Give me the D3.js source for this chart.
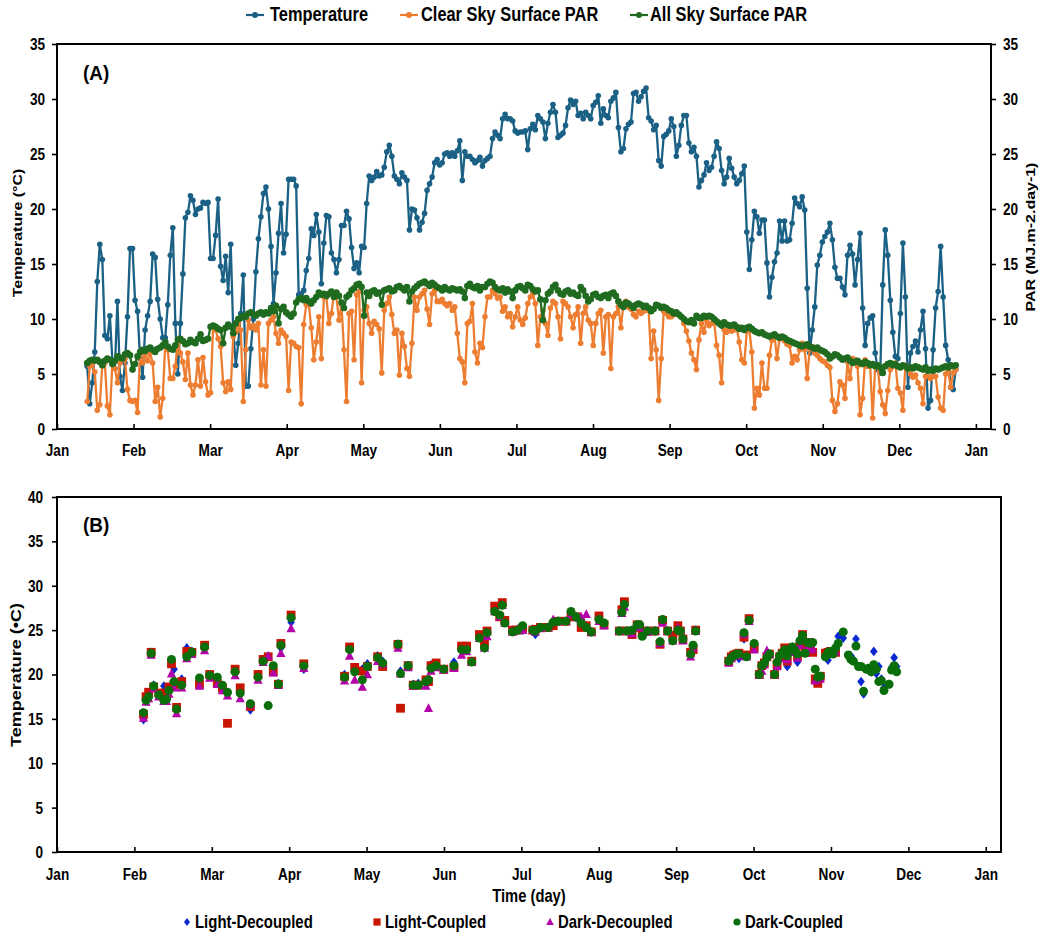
<!DOCTYPE html>
<html><head><meta charset="utf-8">
<script src="https://cdn.jsdelivr.net/npm/d3@7"></script>
<style>
body{margin:0;background:#fff;}
svg{display:block;}
text{font-family:"Liberation Sans",Arial,sans-serif;font-weight:bold;fill:#000;}
</style></head><body>
<svg id="chart" width="1040" height="934"></svg>
<script>
// ---------------- DATA ----------------
const monthLabels = ["Jan","Feb","Mar","Apr","May","Jun","Jul","Aug","Sep","Oct","Nov","Dec","Jan"];
const yTicksA = [0,5,10,15,20,25,30,35];
const yTicksB = [0,5,10,15,20,25,30,35,40];
const seriesNamesA = ["Temperature","Clear Sky Surface PAR","All Sky Surface PAR"];
const seriesNamesB = ["Light-Decoupled","Light-Coupled","Dark-Decoupled","Dark-Coupled"];
const firstDayA = 12; // daily values from Jan 12

const temperature = [
5.7,2.3,4.2,7.0,13.4,16.8,15.4,8.5,8.2,10.3,
6.2,5.5,11.6,4.8,3.5,6.0,10.2,16.4,16.4,11.7,
10.7,6.4,4.7,9.0,10.3,11.6,15.9,15.6,11.8,10.0,
8.3,8.3,11.3,15.8,18.3,9.6,5.0,9.6,14.1,19.2,
19.7,21.2,20.8,19.5,20.0,20.1,20.6,20.5,20.6,
15.5,15.5,17.6,20.9,14.8,13.5,15.7,12.4,16.8,9.0,
5.8,7.8,10.5,14.0,3.9,3.9,7.3,10.0,14.3,17.3,
19.3,21.4,22.0,20.0,16.6,11.4,14.2,17.8,20.5,16.0,
17.7,22.7,22.7,22.7,22.1,12.2,12.3,12.6,14.4,15.5,
18.2,17.6,19.5,17.9,13.2,16.9,19.4,19.3,16.0,15.4,
14.2,15.4,18.5,18.5,19.8,19.1,16.5,14.6,15.1,14.2,
16.6,16.5,20.5,23.0,22.6,22.9,23.4,23.0,23.1,23.8,
25.2,25.8,24.8,23.0,22.7,22.3,23.3,22.9,22.6,18.1,
20.0,19.9,19.2,18.1,18.8,19.6,21.7,22.3,22.9,24.2,
24.5,24.0,24.2,25.0,25.1,24.8,25.1,24.8,25.3,26.2,
22.6,25.2,24.8,24.8,24.5,24.2,24.4,24.7,23.9,24.4,
24.6,24.8,26.4,27.0,26.7,26.4,28.2,28.6,28.2,28.2,
28.0,27.1,26.9,27.0,27.0,27.1,25.4,27.3,27.7,27.2,
28.5,28.2,27.9,26.4,27.8,28.8,29.5,28.8,26.5,26.7,
26.9,27.6,29.2,29.9,29.5,29.8,28.5,28.7,28.2,28.8,
28.5,28.2,29.4,29.7,30.3,27.8,29.1,28.5,28.3,29.8,
30.1,30.6,27.4,25.2,25.5,27.3,27.7,27.9,30.5,30.6,
29.8,30.2,30.7,31.0,28.3,28.0,27.2,27.6,24.4,23.9,
26.6,26.8,27.1,28.2,27.5,24.8,25.8,27.6,28.5,28.5,
26.0,25.2,25.6,24.8,22.0,
22.6,23.1,24.2,23.5,23.8,24.8,26.1,25.5,23.5,22.3,
22.9,24.6,23.7,22.9,22.3,22.6,23.2,23.9,17.9,14.5,
17.2,19.8,19.3,17.8,19.0,19.0,15.1,12.0,13.8,15.2,
16.0,18.9,17.1,18.9,17.1,17.2,18.7,21.0,20.5,20.2,
21.1,19.9,12.8,6.9,9.0,11.1,14.9,15.8,17.0,17.5,
17.9,18.7,17.2,14.7,13.7,13.7,12.9,12.2,15.8,16.7,
15.9,13.1,15.4,17.8,11.0,7.6,9.6,10.1,10.3,6.9,
5.4,5.1,13.1,18.1,15.8,11.7,8.8,6.6,6.4,10.5,
16.9,12.0,3.8,6.9,7.5,8.0,7.0,9.0,10.7,7.3,
1.9,2.6,7.2,11.0,12.5,16.6,12.0,7.6,6.3,3.8,
3.6,5.4];

const clearSkyPAR = [
2.5,5.7,5.9,5.2,1.7,2.2,5.8,6.0,2.1,1.3,
6.0,5.5,4.2,6.0,6.3,6.4,3.6,2.6,2.5,2.6,
1.5,6.9,6.0,6.8,6.2,6.9,6.0,2.5,3.8,1.1,
2.8,7.8,7.2,4.6,4.6,5.7,7.8,6.9,6.1,4.5,
6.9,4.0,3.1,4.0,6.3,3.9,6.5,4.3,3.1,3.3,
9.3,9.0,8.2,7.5,4.2,3.4,4.3,3.6,8.4,8.8,
9.6,9.0,2.5,7.2,9.9,9.2,9.4,9.0,9.6,4.0,
7.2,3.9,9.6,9.9,10.2,8.7,7.8,9.0,8.7,8.4,
3.5,7.9,7.8,7.5,7.4,2.3,9.5,11.3,11.4,9.2,
6.3,7.9,10.2,6.4,12.0,12.0,9.6,10.5,12.3,12.0,
9.9,11.3,7.2,2.5,10.5,10.7,6.3,12.2,12.5,
4.2,10.8,11.1,9.6,8.7,9.8,9.5,9.1,5.1,10.8,
11.4,12.0,10.4,8.7,9.0,4.9,8.7,7.5,5.5,4.8,
7.8,12.0,10.8,12.0,12.3,12.6,10.9,9.5,12.3,12.6,
11.6,11.6,11.8,11.4,11.2,11.4,10.8,11.1,8.7,6.4,
6.1,4.2,9.6,9.8,11.4,7.0,6.0,7.8,7.4,10.2,
12.0,12.0,12.6,12.3,11.9,12.0,10.7,11.1,10.2,10.5,
9.3,10.2,11.1,9.9,9.5,10.1,11.4,12.0,12.3,11.4,
7.6,10.2,10.8,9.6,8.5,11.0,11.6,11.4,10.2,8.2,
11.6,11.4,11.1,10.2,9.2,10.4,11.1,7.8,10.5,11.1,
9.9,9.6,7.6,9.6,10.5,10.8,6.9,10.2,10.4,5.5,
10.2,10.5,11.1,9.2,11.4,11.6,11.1,10.9,10.4,10.2,
10.7,10.5,10.7,10.8,10.8,6.4,8.9,7.2,2.6,6.4,
10.7,10.5,10.2,10.2,10.4,10.5,10.4,10.2,9.6,8.9,
8.0,6.9,6.3,5.4,8.1,
9.6,8.8,9.9,9.4,9.6,9.9,7.6,6.7,4.2,9.0,
8.8,9.2,8.9,9.0,9.2,7.9,6.3,6.0,8.9,9.0,
7.0,1.9,3.7,3.1,6.0,3.7,3.7,6.7,8.1,8.5,
6.4,8.2,8.2,8.0,7.7,7.6,6.0,6.6,6.3,7.2,
7.8,7.2,4.6,7.3,7.5,6.9,6.7,6.4,6.2,6.1,
5.8,5.6,2.6,1.6,2.3,4.3,4.0,2.8,6.1,4.6,
6.4,6.3,5.7,1.3,2.8,6.3,5.7,5.8,1.0,5.8,
5.7,3.4,2.2,1.4,3.5,5.4,5.7,6.0,3.7,3.3,
1.7,5.8,5.5,5.0,4.7,4.9,4.2,3.7,2.3,4.8,
4.8,4.6,4.8,4.8,2.9,1.9,1.7,5.0,5.3,3.8,
5.1,5.4];

const allSkyPAR = [
6.0,6.2,6.3,6.2,6.3,6.1,5.8,6.2,6.4,6.3,
5.9,6.2,6.6,6.5,6.4,6.8,6.9,6.7,5.4,5.9,
6.6,7.0,7.2,7.1,7.3,7.4,7.2,7.0,7.3,7.4,
7.6,7.9,7.5,7.3,7.2,7.6,8.1,8.2,8.0,7.7,
7.8,8.1,7.9,7.8,8.2,8.6,8.0,8.1,8.2,9.3,
9.4,9.3,9.1,9.0,7.8,9.2,9.5,9.3,8.7,9.6,
10.0,10.1,10.3,10.2,10.5,10.6,10.4,10.3,10.5,10.6,
10.4,10.6,10.5,11.0,10.7,11.2,9.6,10.9,11.1,10.6,
10.4,10.2,10.5,11.5,11.8,11.9,11.7,11.9,11.6,11.4,
11.7,12.0,12.4,12.2,12.3,12.1,12.3,12.5,12.0,12.4,
12.1,11.5,11.0,12.0,12.2,12.6,12.8,13.1,13.2,
12.9,10.3,12.4,12.1,12.5,12.6,12.3,12.4,11.3,12.6,
12.7,12.8,12.5,12.6,12.9,13.0,12.8,12.6,12.9,11.6,
12.5,12.8,13.0,13.2,13.3,13.4,13.2,13.0,13.3,13.1,
12.9,12.8,12.6,12.9,12.7,12.6,12.8,12.7,12.6,12.7,
12.5,11.9,13.0,13.2,12.9,12.8,13.0,12.6,12.9,12.9,
13.2,13.4,13.3,12.9,12.7,12.6,12.8,12.4,12.7,12.5,
11.9,12.6,12.9,13.0,12.8,12.6,13.1,13.0,12.7,12.5,
12.6,11.8,9.9,11.7,12.3,12.5,12.9,13.1,12.6,12.3,
12.2,12.5,12.6,12.3,12.4,12.2,12.1,12.9,12.6,12.1,
11.6,11.8,12.2,12.3,12.0,11.9,12.1,12.2,11.9,12.3,
12.4,12.1,11.6,11.3,11.1,11.5,11.4,11.2,11.0,11.3,
11.4,11.3,11.1,11.2,11.0,10.7,10.9,11.3,11.2,11.0,
11.1,11.0,10.8,10.7,10.5,10.6,10.4,10.2,10.0,9.8,
9.7,9.9,9.6,10.3,10.1,
10.1,10.3,10.2,10.3,10.2,10.0,9.8,9.6,9.4,9.7,
9.5,9.4,9.4,9.5,9.3,9.1,9.2,9.0,9.2,9.3,
9.1,8.9,8.8,8.7,8.8,8.6,8.5,8.4,8.5,8.6,
8.4,8.3,8.4,8.3,8.1,8.0,7.9,7.8,7.7,7.6,
7.5,7.6,7.7,7.5,7.4,7.3,7.4,7.2,7.1,7.0,
6.8,6.4,6.6,6.8,6.7,6.5,6.3,6.4,6.5,6.2,
6.0,6.1,6.2,6.0,5.9,6.1,6.0,5.8,5.9,5.7,
5.8,5.6,5.1,5.7,5.9,6.0,5.8,5.9,5.7,5.6,
5.8,5.7,5.5,5.6,5.5,5.7,5.6,5.5,5.4,5.6,
5.3,5.4,5.3,5.5,5.4,5.5,5.6,5.7,5.6,5.8,5.7,5.8];

// Panel B: measurement days (day of year) and values per treatment
const daysB = [
34,35,36,37,38,40,42,43,44,45,46,47,49,51,53,56,58,60,63,65,
67,70,72,76,79,81,83,85,87,88,92,97,113,115,117,120,122,126,128,134,
135,138,140,142,145,146,147,149,152,156,159,161,163,166,168,169,172,174,175,176,
179,181,183,187,188,190,193,195,197,200,202,204,206,208,210,213,215,221,222,223,
224,226,228,229,230,232,235,237,238,240,242,244,245,246,249,250,251,264,265,266,
267,268,270,271,272,274,276,277,278,279,280,282,283,284,285,286,287,288,289,290,
291,292,293,294,295,296,297,298,299,300,302,303,304,305,306,307,309,311,312,313,
314,315,316,317,318,319,320,321,322,323,324,325,327,328,329,330];

const lightDecoupled = [
14.9,17.0,17.6,22.5,18.8,17.8,18.7,17.4,18.3,21.6,
20.6,16.2,19.5,23.0,22.6,18.9,23.0,19.8,19.3,18.3,
17.8,20.3,17.8,16.0,20.0,21.6,22.0,20.4,19.0,23.0,
25.9,20.6,20.0,22.9,20.5,20.6,21.2,22.1,21.5,23.4,
20.4,21.0,18.9,19.0,19.3,19.5,21.1,21.2,20.6,21.4,
23.0,22.8,21.5,24.3,23.0,24.7,27.3,26.6,27.9,25.9,
25.0,25.0,25.0,24.9,24.5,25.3,25.3,25.9,26.0,26.0,
27.0,26.4,25.8,25.5,24.8,26.2,25.6,24.9,27.0,28.0,
24.9,24.8,25.6,25.5,24.6,24.9,24.9,23.7,26.2,24.9,
23.8,25.2,24.8,24.0,22.4,23.0,25.0,21.6,22.0,22.0,
22.3,21.8,24.0,22.1,26.1,23.3,20.0,21.0,21.4,21.9,
22.2,20.0,21.4,22.0,22.5,22.6,20.9,22.9,23.1,22.4,
21.4,23.6,24.4,22.5,23.4,23.3,23.6,19.5,19.3,19.6,
22.2,21.6,22.4,22.7,23.0,24.3,24.1,22.1,22.1,21.7,
24.0,20.9,19.2,17.8,20.6,20.5,20.3,22.6,20.1,20.9,
19.5,18.5,18.9,20.8,21.9,20.9];

const lightCoupled = [
15.5,17.5,18.0,22.5,18.6,17.9,17.9,17.6,18.6,21.2,
18.8,16.3,19.2,22.6,22.5,18.9,23.3,20.0,19.0,18.5,
14.5,20.6,18.5,16.4,20.0,21.7,22.0,20.3,18.9,23.5,
26.7,21.2,19.8,23.1,20.8,20.4,20.9,22.0,20.9,23.4,
16.2,21.0,18.8,18.8,19.4,19.2,21.0,21.3,20.6,20.8,
23.2,23.2,21.5,24.5,23.6,24.9,27.7,26.5,28.1,26.1,
25.0,25.0,25.2,25.0,25.1,25.3,25.3,25.5,26.0,26.0,
26.5,26.5,25.3,25.5,24.8,26.6,25.6,24.9,27.3,28.2,
24.9,24.5,25.6,25.3,24.8,24.9,24.9,23.4,26.1,24.9,
24.4,25.5,24.9,24.0,22.5,22.8,25.0,21.5,22.0,22.2,
22.3,22.4,24.2,22.2,26.3,23.0,20.0,21.0,21.3,22.0,
22.3,20.0,21.1,22.0,22.4,23.0,21.5,22.8,23.0,22.7,
22.0,23.3,24.5,22.9,23.6,23.0,22.5,19.5,19.0,19.8,
22.4,22.5,22.6,22.5,22.5,null,null,null,null,null,
null,null,null,null,null,null,null,null,null,null,
null,null,null,null,null,null];

const darkDecoupled = [
15.1,16.9,17.3,22.2,18.4,17.5,17.0,17.0,17.8,20.1,
18.5,15.6,18.5,21.8,22.3,18.7,22.7,19.6,18.9,18.2,
17.6,19.9,17.3,16.6,19.4,21.4,22.1,20.2,18.8,22.4,
25.2,20.7,19.3,22.1,19.4,18.6,20.0,21.5,21.2,23.0,
20.1,20.8,18.7,18.8,18.7,16.2,20.4,20.8,20.5,20.7,
22.2,22.6,21.4,24.1,23.0,24.3,27.1,26.5,27.8,25.8,
24.8,25.1,25.0,25.0,24.8,25.2,25.3,26.2,26.0,26.0,
26.8,26.5,26.5,26.8,24.8,26.0,25.5,24.9,26.9,27.6,
24.9,24.6,25.4,25.3,24.5,24.8,24.9,23.5,25.8,24.9,
23.8,25.3,24.9,23.8,22.0,23.0,24.9,21.3,21.8,22.1,
22.2,22.1,24.5,22.0,26.0,22.8,20.0,20.4,21.1,22.7,
22.3,20.0,20.9,21.8,22.3,22.8,21.7,22.5,22.9,22.5,
21.9,23.3,24.0,22.4,23.0,22.8,22.9,19.3,19.6,19.5,
22.3,22.5,22.4,22.5,22.6,null,null,null,null,null,
null,null,null,null,null,null,null,null,null,null,
null,null,null,null,null,null];

const darkCoupled = [
15.7,17.1,17.5,22.4,18.7,17.7,17.1,17.2,18.2,21.7,
19.2,16.1,18.8,22.0,22.5,19.6,23.1,19.9,19.7,18.8,
18.0,20.3,17.9,16.7,19.7,21.5,16.5,21.0,18.9,23.3,
26.4,21.0,19.7,22.8,20.3,19.4,20.9,21.9,21.3,23.4,
20.1,21.0,18.8,18.8,19.2,19.4,20.7,21.0,20.6,21.0,
22.8,22.8,21.4,24.1,23.0,24.7,27.1,26.7,27.8,25.8,
24.8,25.0,25.5,25.0,24.9,25.3,25.3,25.9,26.0,26.0,
27.1,26.5,25.8,25.3,24.8,26.2,25.8,24.9,27.0,27.9,
24.9,25.0,25.6,25.6,24.3,24.9,24.9,23.7,26.2,24.9,
23.8,25.0,24.9,24.0,22.3,23.3,24.9,21.5,21.9,22.1,
22.3,22.3,24.7,22.0,26.1,23.5,20.0,21.0,21.3,21.9,
22.3,20.0,21.4,22.1,22.4,22.8,22.1,22.8,23.1,22.7,
22.3,23.8,24.4,22.4,23.6,23.5,23.6,20.6,19.7,19.8,
22.0,22.5,22.6,22.3,23.0,23.5,24.8,22.2,21.7,21.5,
23.2,20.9,20.9,18.1,20.6,20.7,20.3,21.1,20.6,19.2,
19.3,18.2,18.9,20.5,21.0,20.3];

// ---------------- DRAW ----------------
const svg = d3.select("#chart");
const SQ = 0.8; // horizontal squeeze of lettering, as in the reference
const colA = ["#1b6085","#ed7d31","#1f6b1f"];
const colB = ["#0a28d0","#c81400","#b400a8","#0a6e0a"];

function txt(x, y, s, size, anchor, rot, sq) {
  const t = svg.append("text")
    .attr("transform", `translate(${x},${y}) scale(${sq||SQ},1)` + (rot ? ` rotate(${rot})` : ""))
    .attr("font-size", size).attr("text-anchor", anchor || "start").text(s);
  return t;
}
const tickDays = monthLabels.map((m, i) => i * 365 / 12);

// ===== Panel A =====
const xA = d3.scaleLinear().domain([0, 371]).range([57, 991]);
const yA = d3.scaleLinear().domain([0, 35]).range([429, 44]);
const yA2 = d3.scaleLinear().domain([0, 35]).range([429, 44]);

function styleAxis(g, size, xoff) {
  g.select(".domain").remove();
  g.selectAll(".tick line").attr("stroke", "#000").attr("stroke-width", 1.6);
  g.selectAll(".tick text").attr("font-size", size).attr("fill", "#000")
    .style("font-family", '"Liberation Sans",Arial,sans-serif').style("font-weight", "bold");
  if (xoff !== undefined) g.selectAll(".tick text").attr("x", xoff / SQ).attr("transform", `scale(${SQ},1)`);
  else g.selectAll(".tick text").attr("transform", `scale(${SQ},1)`);
}

const gxA = svg.append("g").attr("transform", "translate(0,429)")
  .call(d3.axisBottom(xA).tickValues(tickDays).tickFormat((d, i) => monthLabels[i])
    .tickSizeInner(-5).tickSizeOuter(0).tickPadding(15));
styleAxis(gxA, 17);
const gyA = svg.append("g").attr("transform", "translate(57,0)")
  .call(d3.axisLeft(yA).tickValues(yTicksA).tickSizeInner(5).tickSizeOuter(0));
styleAxis(gyA, 17, -12);
const gyA2 = svg.append("g").attr("transform", "translate(991,0)")
  .call(d3.axisRight(yA2).tickValues(yTicksA).tickSizeInner(5).tickSizeOuter(0));
styleAxis(gyA2, 17, 12);

svg.append("rect").attr("x", 57).attr("y", 44).attr("width", 934).attr("height", 385)
  .attr("fill", "none").attr("stroke", "#000").attr("stroke-width", 2);

const seriesA = [temperature, clearSkyPAR, allSkyPAR].map((arr, k) =>
  arr.map((v, i) => ({ day: firstDayA + i, v, k })));
const radA = [2.8, 2.8, 3.3];
const lineA = d3.line().x(d => xA(d.day)).y(d => (d.k === 0 ? yA(d.v) : yA2(d.v)));
seriesA.forEach((s, k) => {
  svg.append("path").datum(s).attr("d", lineA).attr("fill", "none")
    .attr("stroke", colA[k]).attr("stroke-width", 2.3).attr("stroke-linejoin", "round");
  svg.append("g").selectAll("circle").data(s).join("circle")
    .attr("cx", d => xA(d.day)).attr("cy", d => (k === 0 ? yA(d.v) : yA2(d.v)))
    .attr("r", radA[k]).attr("fill", colA[k]);
});

txt(83, 80, "(A)", 21, "start", 0, 0.9);
txt(22, 233, "Temperature (°C)", 16, "middle", -90);
txt(1035, 237, "PAR (MJ.m-2.day-1)", 16, "middle", -90);

// top legend
const legA = [{ x: 246, tx: 270 }, { x: 400, tx: 421 }, { x: 630, tx: 650 }];
legA.forEach((p, k) => {
  svg.append("line").attr("x1", p.x).attr("x2", p.x + 18).attr("y1", 15).attr("y2", 15)
    .attr("stroke", colA[k]).attr("stroke-width", 2.2);
  svg.append("circle").attr("cx", p.x + 9).attr("cy", 15).attr("r", 3).attr("fill", colA[k]);
  txt(p.tx, 21, seriesNamesA[k], 20, "start", 0, 0.82);
});

// ===== Panel B =====
const xB = d3.scaleLinear().domain([0, 371]).range([57, 1001]);
const yB = d3.scaleLinear().domain([0, 40]).range([852, 497]);

const gxB = svg.append("g").attr("transform", "translate(0,852)")
  .call(d3.axisBottom(xB).tickValues(tickDays).tickFormat((d, i) => monthLabels[i])
    .tickSizeInner(-5).tickSizeOuter(0).tickPadding(16));
styleAxis(gxB, 17);
const gyB = svg.append("g").attr("transform", "translate(57,0)")
  .call(d3.axisLeft(yB).tickValues(yTicksB).tickSizeInner(5).tickSizeOuter(0));
styleAxis(gyB, 17, -14);
svg.append("rect").attr("x", 57).attr("y", 497).attr("width", 944).attr("height", 355)
  .attr("fill", "none").attr("stroke", "#000").attr("stroke-width", 2);

const shapes = [
  "M0,-4.8L3.8,0L0,4.8L-3.8,0Z",            // diamond
  "M-4.4,-4.4H4.4V4.4H-4.4Z",               // square
  "M0,-5L4.6,3.8H-4.6Z",                    // triangle
  null                                       // circle
];
const seriesB = [lightDecoupled, lightCoupled, darkDecoupled, darkCoupled];
seriesB.forEach((arr, k) => {
  const pts = arr.map((v, i) => ({ day: daysB[i], v })).filter(d => d.v !== null);
  const g = svg.append("g");
  if (shapes[k]) {
    g.selectAll("path").data(pts).join("path").attr("d", shapes[k])
      .attr("transform", d => `translate(${xB(d.day)},${yB(d.v)})`).attr("fill", colB[k]);
  } else {
    g.selectAll("circle").data(pts).join("circle")
      .attr("cx", d => xB(d.day)).attr("cy", d => yB(d.v)).attr("r", 4.5).attr("fill", colB[k]);
  }
});

txt(83, 532, "(B)", 21, "start", 0, 0.9);
txt(21, 675, "Temperature (•C)", 18, "middle", -90);
txt(529, 902, "Time (day)", 18, "middle", 0, 0.82);

// bottom legend
const legB = [{ x: 187, tx: 195 }, { x: 377, tx: 385 }, { x: 550, tx: 558 }, { x: 737, tx: 745 }];
const legShapes = ["M0,-4L3,0L0,4L-3,0Z", "M-3.6,-3.6H3.6V3.6H-3.6Z", "M0,-4L3.8,3H-3.8Z", null];
legB.forEach((p, k) => {
  if (legShapes[k]) svg.append("path").attr("d", legShapes[k])
    .attr("transform", `translate(${p.x},922)`).attr("fill", colB[k]);
  else svg.append("circle").attr("cx", p.x).attr("cy", 922).attr("r", 3.6).attr("fill", colB[k]);
  txt(p.tx, 928, seriesNamesB[k], 18, "start", 0, 0.83);
});
</script>
</body></html>
